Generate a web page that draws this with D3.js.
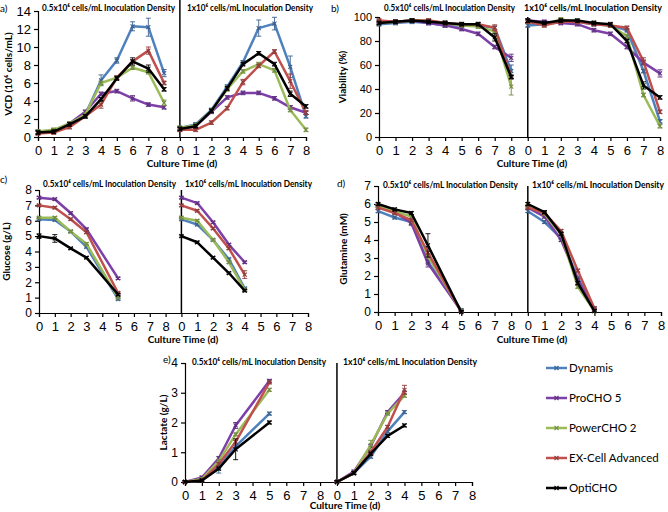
<!DOCTYPE html>
<html><head><meta charset="utf-8">
<script src="https://cdn.jsdelivr.net/npm/d3@7"></script>
<style>
body{margin:0;background:#fff;}
svg{font-family:Lato, "Open Sans", sans-serif;}
</style></head>
<body><svg id="c" width="668" height="512"></svg>
<script>
// ---------- DATA ----------
const seriesNames = ["Dynamis","ProCHO 5","PowerCHO 2","EX-Cell Advanced","OptiCHO"];
const seriesColors = ["#4F81BD","#7D3FA8","#9BBB59","#C0504D","#000000"];
const daysFull = [0,1,2,3,4,5,6,7,8];
const daysLowMeta = [0,1,2,3,5];
const daysHighMeta = [0,1,2,3,4];
const xTickLabels = ["0","1","2","3","4","5","6","7","8","0","1","2","3","4","5","6","7","8"];
const densityLabels = ["0.5x10\u2076 cells/mL Inoculation Density","1x10\u2076 cells/mL Inoculation Density"];

// a) VCD (10^6 cells/mL)
const vcdLow = [
  [0.6,0.7,1.4,2.5,6.3,8.5,12.3,12.2,7.1],
  [0.5,0.7,1.5,2.8,4.8,5.1,4.3,3.6,3.3],
  [0.6,0.8,1.5,2.5,6.0,6.6,7.7,7.2,3.8],
  [0.4,0.5,1.1,2.3,3.6,6.6,8.4,9.6,6.0],
  [0.5,0.6,1.4,2.3,4.2,6.5,8.4,7.6,5.3]];
const vcdHigh = [
  [1.0,1.4,3.0,5.6,8.3,12.1,12.6,7.8,2.3],
  [0.9,1.2,2.8,4.4,4.9,4.9,4.3,3.3,2.7],
  [1.0,1.3,2.9,5.3,7.3,8.1,7.4,3.0,0.8],
  [0.8,0.8,1.6,3.2,6.1,7.9,9.5,6.2,2.7],
  [0.9,1.2,2.9,5.4,8.1,9.3,8.1,4.8,3.4]];
// b) Viability (%)
const viaLow = [
  [94,95,96,95,93,93,93,91,55],
  [96,96,97,95,93,90,86,75,66],
  [95,96,97,97,95,93,92,88,42],
  [97,96,97,97,95,94,94,91,50],
  [95,96,97,96,95,94,94,83,50]];
const viaHigh = [
  [93,94,96,96,94,93,89,55,13],
  [97,96,95,94,89,86,75,62,53],
  [96,94,98,96,95,93,84,35,9],
  [96,93,96,96,94,93,91,63,21],
  [97,95,97,97,95,94,80,43,33]];
// c) Glucose (g/L)
const gluLow = [
  [6.1,6.05,5.3,4.3,0.9],
  [7.5,7.4,6.5,5.45,2.25],
  [6.2,6.2,5.3,4.5,1.0],
  [7.0,6.85,6.1,5.25,1.3],
  [5.0,4.85,4.2,3.6,1.2]];
const gluHigh = [
  [6.1,5.75,4.75,3.5,1.6],
  [7.5,7.15,5.9,4.45,3.3],
  [6.2,6.0,4.75,3.3,1.5],
  [7.0,6.65,5.5,4.2,2.5],
  [5.0,4.6,3.6,2.6,1.45]];
// d) Glutamine (mM)
const glnLow = [
  [5.6,5.25,5.0,2.8,0.1],
  [5.9,5.55,4.95,2.7,0.05],
  [5.9,5.6,5.3,3.1,0.05],
  [5.8,5.5,5.1,3.3,0.0],
  [6.0,5.7,5.5,3.7,0.0]];
const glnHigh = [
  [5.6,5.0,4.1,1.9,0.2],
  [5.8,5.3,4.0,1.8,0.1],
  [5.9,5.45,4.3,1.4,0.05],
  [5.8,5.5,4.5,2.3,0.2],
  [6.0,5.55,4.35,1.6,0.05]];
// e) Lactate (g/L)
const lacLow = [
  [0,0.05,0.5,1.2,2.3],
  [0,0.15,0.8,1.9,3.4],
  [0,0.1,0.7,1.6,3.1],
  [0,0.05,0.6,1.35,3.35],
  [0,0.05,0.45,1.1,2.0]];
const lacHigh = [
  [0,0.3,0.85,1.7,2.35],
  [0,0.35,1.2,2.35,3.0],
  [0,0.3,1.25,2.3,2.9],
  [0,0.3,1.0,1.85,3.1],
  [0,0.3,0.95,1.55,1.9]];
// notable error bars: [panel, half(0 low/1 high), series, day, ±err]
const errorBars = [
  ["a",0,0,4,0.6],["a",0,0,5,0.3],["a",0,0,6,0.5],["a",0,0,7,1.0],["a",0,0,8,0.4],
  ["a",0,3,7,0.4],["a",0,3,4,0.4],["a",0,4,6,0.4],["a",0,4,7,0.4],["a",0,2,8,0.3],["a",0,1,6,0.3],
  ["a",1,0,5,0.9],["a",1,0,6,0.7],["a",1,0,7,1.2],["a",1,3,7,0.8],["a",1,3,4,0.3],["a",1,4,7,0.3],
  ["b",0,2,8,7],["b",0,0,8,5],["b",0,1,8,3],["b",0,4,7,3],["b",0,3,7,2.5],
  ["b",1,1,8,3],["b",1,3,7,3],["b",1,4,7,3],
  ["c",0,4,1,0.25],["c",0,4,0,0.15],["c",1,3,4,0.25],
  ["d",0,4,3,0.65],["d",0,1,3,0.2],["d",0,2,2,0.25],["d",0,0,2,0.2],
  ["e",0,4,3,0.35],["e",0,0,2,0.2],["e",0,1,3,0.1],["e",1,3,4,0.15],["e",1,2,2,0.15]
];

// ---------- LAYOUT ----------
const svg = d3.select("#c");
const panels = [
  {id:"a", letter:"a)", lx:0, ly:12, title:"VCD (10\u2076 cells/mL)", tx:12,
   left:38, right:306, top:11, bottom:137, ymax:14, step:2, ytfs:13, divTop:0,
   low:vcdLow, high:vcdHigh, dLow:daysFull, dHigh:daysFull, defErr:0.2,
   sub:[[42,11,133],[187,11,126]], xlab:[182,167]},
  {id:"b", letter:"b)", lx:331, ly:12, title:"Viability (%)", tx:346,
   left:379, right:660, top:17, bottom:137, ymax:100, step:20, ytfs:11, divTop:17,
   low:viaLow, high:viaHigh, dLow:daysFull, dHigh:daysFull, defErr:1.5,
   sub:[[384,10.5,131],[524,10.5,138]], xlab:[532,167]},
  {id:"c", letter:"c)", lx:0, ly:183, title:"Glucose (g/L)", tx:10,
   left:39, right:308, top:190, bottom:313, ymax:8, step:1, ytfs:12, divTop:190,
   low:gluLow, high:gluHigh, dLow:daysLowMeta, dHigh:daysHighMeta, defErr:0.07,
   sub:[[43,187,133],[185,187,127]], xlab:[183,343]},
  {id:"d", letter:"d)", lx:337, ly:187, title:"Glutamine (mM)", tx:347,
   left:378, right:661, top:186, bottom:312, ymax:7, step:1, ytfs:12, divTop:186,
   low:glnLow, high:glnHigh, dLow:daysLowMeta, dHigh:daysHighMeta, defErr:0.08,
   sub:[[383,188,135],[532,188,132]], xlab:[532,343]},
  {id:"e", letter:"e)", lx:163, ly:363, title:"Lactate (g/L)", tx:167,
   left:185, right:472, top:363, bottom:482, ymax:4, step:1, ytfs:12, divTop:363,
   low:lacLow, high:lacHigh, dLow:daysLowMeta, dHigh:daysHighMeta, defErr:0.05,
   sub:[[192,365,134],[343,365,134]], xlab:[345,509]}
];

panels.forEach(p => {
  const g = svg.append("g");
  const x = d3.scaleLinear().domain([0,17]).range([p.left,p.right]);
  const y = d3.scaleLinear().domain([0,p.ymax]).range([p.bottom,p.top]);

  // axes
  const ya = g.append("g").attr("transform",`translate(${p.left},0)`)
    .call(d3.axisLeft(y).tickValues(d3.range(0,p.ymax+p.step/2,p.step)).tickFormat(d3.format("d")).tickSize(4).tickPadding(3));
  ya.selectAll("text").attr("font-size",p.ytfs).attr("fill","#000");
  const xa = g.append("g").attr("transform",`translate(0,${p.bottom})`)
    .call(d3.axisBottom(x).tickValues(d3.range(0,18)).tickFormat(i=>xTickLabels[i]).tickSize(4).tickPadding(5));
  xa.selectAll("text").attr("font-size",13).attr("fill","#000");
  [ya,xa].forEach(a=>{a.selectAll("path,line").attr("stroke","#000").attr("stroke-width",1.2);});

  // divider
  g.append("line").attr("x1",x(9)).attr("x2",x(9)).attr("y1",p.divTop).attr("y2",p.bottom)
    .attr("stroke","#000").attr("stroke-width",1.5);

  // texts
  g.append("text").attr("x",p.lx).attr("y",p.ly).attr("font-size",10).text(p.letter);
  g.append("text").attr("transform",`translate(${p.tx},${(p.top+p.bottom)/2}) rotate(-90)`)
    .attr("text-anchor","middle").attr("font-size",10).attr("font-weight","bold").text(p.title);
  p.sub.forEach((s,i)=>{
    g.append("text").attr("x",s[0]).attr("y",s[1]).attr("font-size",9.5).attr("font-weight","bold")
      .attr("textLength",s[2]).attr("lengthAdjust","spacingAndGlyphs").text(densityLabels[i]);
  });
  g.append("text").attr("x",p.xlab[0]).attr("y",p.xlab[1]).attr("text-anchor","middle")
    .attr("font-size",10).attr("font-weight","bold").text("Culture Time (d)");

  // series
  [[p.low,p.dLow,0],[p.high,p.dHigh,9]].forEach(([vals,days,off],half)=>{
    vals.forEach((arr,si)=>{
      const pts = arr.map((v,k)=>({xi:days[k]+off, v, d:days[k]}));
      const col = seriesColors[si];
      const dark = si===4 ? "#000" : d3.color(col).darker(0.8).formatHex();
      g.append("path").datum(pts)
        .attr("d",d3.line().x(d=>x(d.xi)).y(d=>y(d.v)))
        .attr("fill","none").attr("stroke",col).attr("stroke-width",2.5).attr("stroke-linejoin","round");
      pts.forEach(pt=>{
        const eb = errorBars.find(e=>e[0]===p.id && e[1]===half && e[2]===si && e[3]===pt.d);
        const err = eb ? eb[4] : p.defErr;
        const cx = x(pt.xi), y1 = y(Math.max(0,pt.v-err)), y2 = y(Math.min(p.ymax,pt.v+err));
        g.append("line").attr("x1",cx).attr("x2",cx).attr("y1",y1).attr("y2",y2).attr("stroke",dark).attr("stroke-width",0.9);
        [y1,y2].forEach(yy=>g.append("line").attr("x1",cx-2.5).attr("x2",cx+2.5).attr("y1",yy).attr("y2",yy).attr("stroke",dark).attr("stroke-width",0.9));
        const cy = y(pt.v), r=2;
        g.append("path").attr("d",`M${cx-r},${cy-r}L${cx+r},${cy+r}M${cx-r},${cy+r}L${cx+r},${cy-r}`)
          .attr("stroke",dark).attr("stroke-width",1.1);
      });
    });
  });
});

// legend
const legY = d3.scalePoint().domain(seriesNames).range([368,488]);
seriesNames.forEach((n,i)=>{
  const yy = legY(n);
  const col = seriesColors[i];
  const dark = i===4 ? "#000" : d3.color(col).darker(0.8).formatHex();
  svg.append("line").attr("x1",546).attr("x2",567).attr("y1",yy).attr("y2",yy).attr("stroke",col).attr("stroke-width",2.5);
  const r=2;
  svg.append("path").attr("d",`M${556.5-r},${yy-r}L${556.5+r},${yy+r}M${556.5-r},${yy+r}L${556.5+r},${yy-r}`).attr("stroke",dark).attr("stroke-width",1.1);
  svg.append("text").attr("x",569).attr("y",yy+4).attr("font-size",11.5).text(n);
});
</script></body></html>
